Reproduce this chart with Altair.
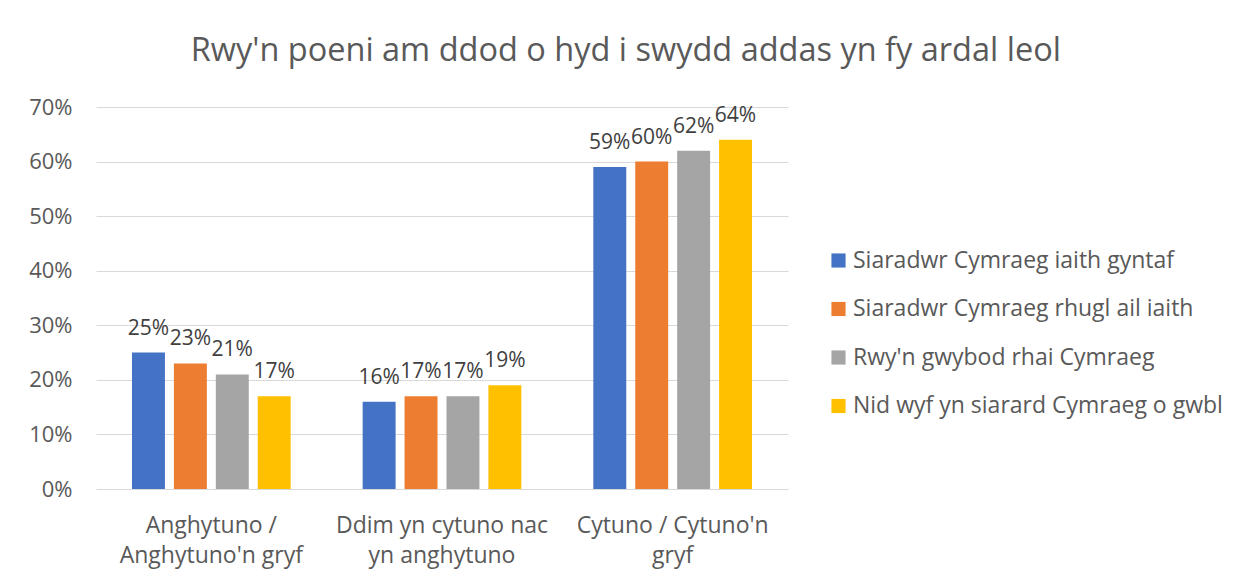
import altair as alt
import pandas as pd

categories = ["Anghytuno / |Anghytuno'n gryf", "Ddim yn cytuno nac|yn anghytuno", "Cytuno / Cytuno'n|gryf"]
series = ["Siaradwr Cymraeg iaith gyntaf", "Siaradwr Cymraeg rhugl ail iaith",
          "Rwy'n gwybod rhai Cymraeg", "Nid wyf yn siarard Cymraeg o gwbl"]
colors = ["#4472C4", "#ED7D31", "#A5A5A5", "#FFC000"]
values = [
    [0.25, 0.16, 0.59],
    [0.23, 0.17, 0.60],
    [0.21, 0.17, 0.62],
    [0.17, 0.19, 0.64],
]
title = "Rwy'n poeni am ddod o hyd i swydd addas yn fy ardal leol"

rows = []
for si, s in enumerate(series):
    for ci, c in enumerate(categories):
        rows.append({"cat": c, "series": s, "value": values[si][ci]})
df = pd.DataFrame(rows)

FONT = "Open Sans"
GREY = "#595959"

x = alt.X("cat:N", sort=categories,
          scale=alt.Scale(paddingInner=0.312, paddingOuter=0.156),
          axis=alt.Axis(title=None, labelAngle=0, domain=False, ticks=False, tickSize=0,
                        labelPadding=25, labelFontSize=23, labelColor=GREY, labelFont=FONT,
                        labelExpr="split(datum.label, '|')", labelLineHeight=30,
                        labelLimit=400))
xo = alt.XOffset("series:N", sort=series, scale=alt.Scale(paddingInner=0.214, paddingOuter=0))
y = alt.Y("value:Q", scale=alt.Scale(domain=[0, 0.7], nice=False),
          axis=alt.Axis(title=None, format=".0%", values=[0, 0.1, 0.2, 0.3, 0.4, 0.5, 0.6, 0.7],
                        domain=False, ticks=False, tickSize=0, labelPadding=24,
                        labelFontSize=22, labelColor=GREY, labelFont=FONT,
                        gridColor="#D9D9D9", gridWidth=1))

color = alt.Color("series:N", sort=series,
                  scale=alt.Scale(domain=series, range=colors),
                  legend=alt.Legend(title=None, orient="none", legendX=731, legendY=142,
                                    symbolType="square", symbolSize=200, symbolStrokeWidth=0,
                                    labelFontSize=23, labelColor=GREY, labelFont=FONT,
                                    rowPadding=24.5, labelOffset=3, labelLimit=500))

bars = alt.Chart(df).mark_bar().encode(x=x, xOffset=xo, y=y, color=color)
labels = alt.Chart(df).mark_text(baseline="bottom", dy=-14, fontSize=21, color="#404040", font=FONT).encode(
    x=x, xOffset=xo, y=y, text=alt.Text("value:Q", format=".0%"))

chart = alt.layer(bars, labels).properties(
    width=692, height=382,
    background="white",
    title=alt.TitleParams(title, fontSize=32.5, font=FONT, fontWeight="normal", color=GREY,
                          anchor="middle", frame="bounds", offset=29),
    padding={"left": 20, "top": 26, "right": 10, "bottom": 5},
).configure_view(strokeWidth=0, stroke="transparent")

chart.save("out.html", embed_options={"renderer": "svg", "actions": False})
